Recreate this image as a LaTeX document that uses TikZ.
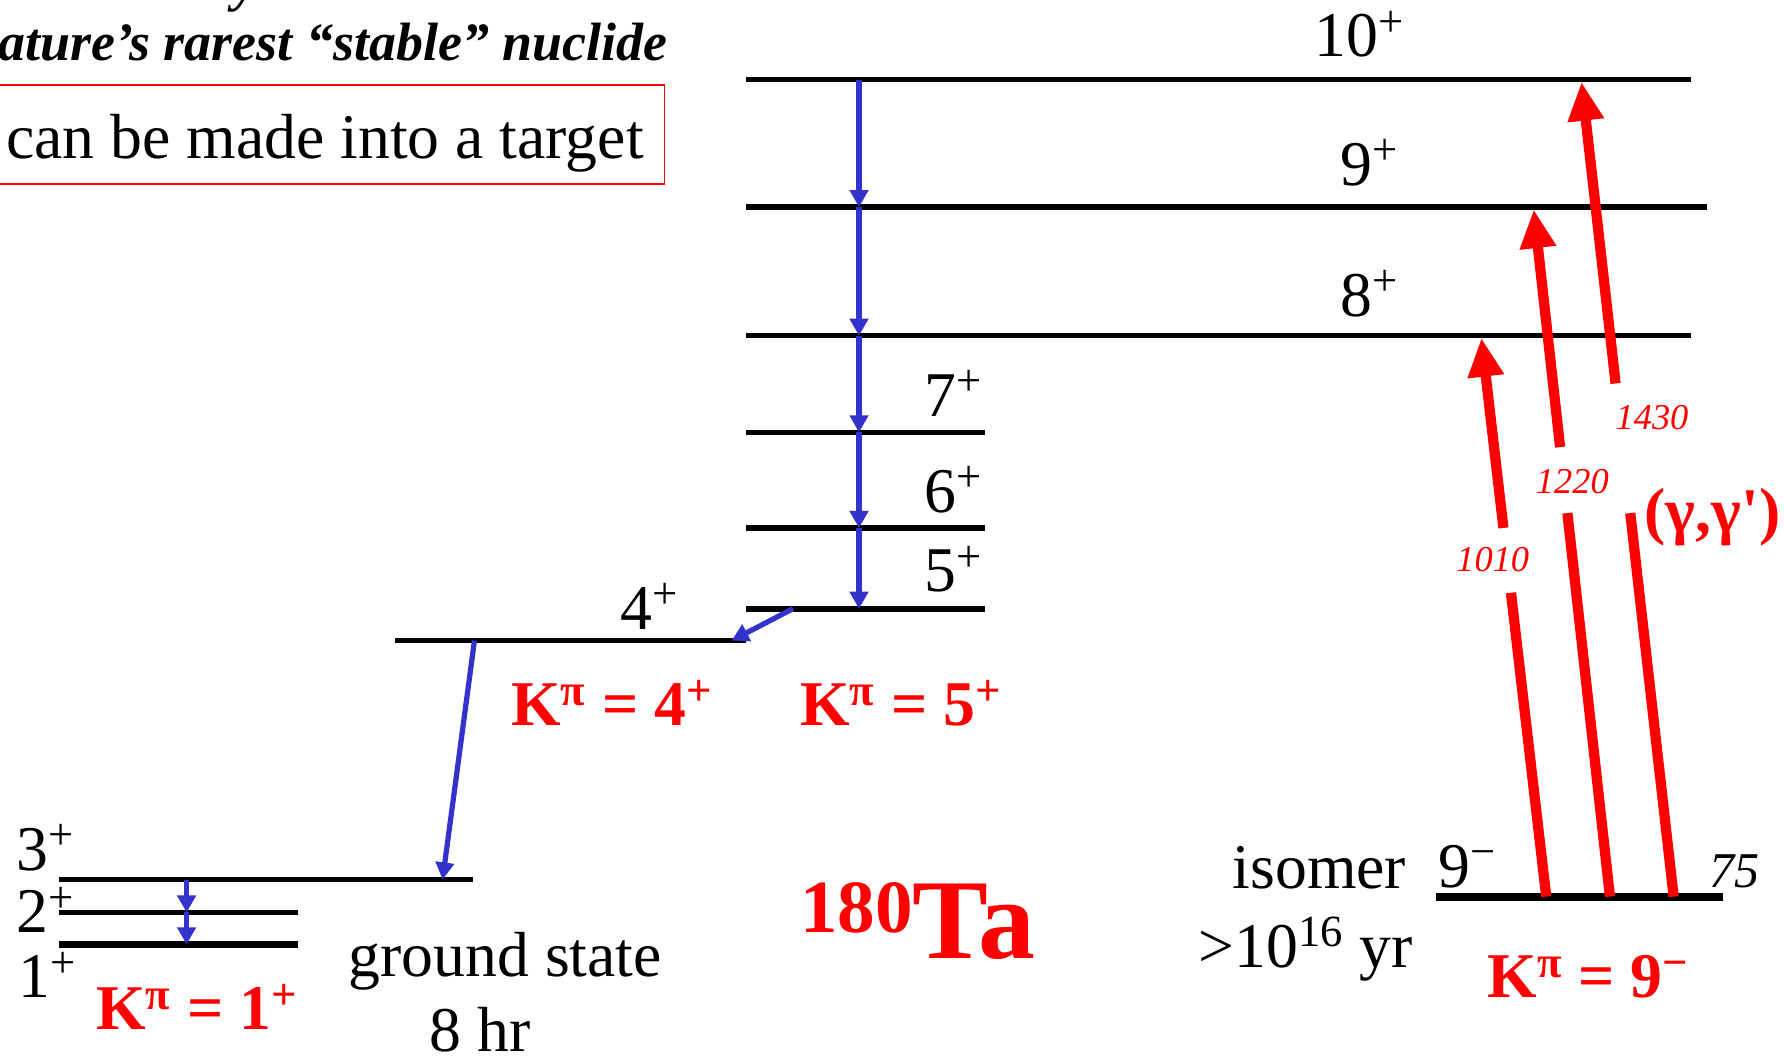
\documentclass[tikz,border=0pt]{standalone}
\usepackage{fontspec}
\setmainfont{Liberation Serif}
\usetikzlibrary{arrows.meta,calc}
\definecolor{dblue}{RGB}{51,51,204}
\begin{document}
\begin{tikzpicture}[x=0.5pt,y=-0.5pt,
  level/.style={line width=2.5pt, black},
  blue arrow/.style={dblue, line width=2.3pt, -{Triangle[length=7.5pt,width=8pt]}},
  red line/.style={red, line width=4.5pt},
  red arrow/.style={red, line width=4.5pt, -{Triangle[length=17pt,width=15pt]}},
  lbl/.style={font=\fontsize{28}{30}\selectfont, inner sep=0pt},
  klbl/.style={font=\fontsize{28}{30}\selectfont\bfseries, text=red, inner sep=0pt},
  elbl/.style={font=\fontsize{16}{18}\selectfont\itshape, text=red, inner sep=0pt},
]
\useasboundingbox (0,0) rectangle (1568,933);

% header texts
\node[anchor=base west, inner sep=0pt, font=\fontsize{24}{26}\selectfont\bfseries\itshape] (ytop) at (205,0) {y};
\node[anchor=base east, inner sep=0pt, font=\fontsize{23.7}{26}\selectfont\bfseries\itshape] (title) at (587,53) {Nature’s rarest “stable” nuclide};
\draw[red, line width=0.8pt] (-10,75) rectangle (584,162);
\node[lbl, anchor=base west] (target) at (5,139) {can be made into a target};

% levels
\coordinate (L10a) at (656,70);  \coordinate (L10b) at (1486,70);
\coordinate (L9a) at (656,182);  \coordinate (L9b) at (1500,182);
\coordinate (L8a) at (656,295);  \coordinate (L8b) at (1486,295);
\coordinate (L7a) at (656,380);  \coordinate (L7b) at (866,380);
\coordinate (L6a) at (656,464);  \coordinate (L6b) at (866,464);
\coordinate (L5a) at (656,535);  \coordinate (L5b) at (866,535);
\coordinate (L4a) at (347,563);  \coordinate (L4b) at (656,563);
\coordinate (L3a) at (52,773);   \coordinate (L3b) at (416,773);
\coordinate (L2a) at (52,802);   \coordinate (L2b) at (262,802);
\coordinate (L1a) at (52,830);   \coordinate (L1b) at (262,830);
\coordinate (Lia) at (1262,788); \coordinate (Lib) at (1514,788);
\foreach \l in {10,9,8,7,6,5,4,3,2} {\draw[level] (L\l a) -- (L\l b);}
\draw[level, line width=3.2pt] (L1a) -- (L1b);
\draw[level, line width=3.5pt] (Lia) -- (Lib);

% level labels
\node[lbl, anchor=base west] (s10) at (1155,50) {10\textsuperscript{+}};
\node[lbl, anchor=base west] (s9) at (1178,163) {9\textsuperscript{+}};
\node[lbl, anchor=base west] (s8) at (1178,278) {8\textsuperscript{+}};
\node[lbl, anchor=base west] (s7) at (812,366) {7\textsuperscript{+}};
\node[lbl, anchor=base west] (s6) at (812,450) {6\textsuperscript{+}};
\node[lbl, anchor=base west] (s5) at (812,520) {5\textsuperscript{+}};
\node[lbl, anchor=base west] (s4) at (545,553) {4\textsuperscript{+}};
\node[lbl, anchor=base west] (s3) at (14,765) {3\textsuperscript{+}};
\node[lbl, anchor=base west] (s2) at (14,820) {2\textsuperscript{+}};
\node[lbl, anchor=base west] (s1) at (16,877) {1\textsuperscript{+}};
\node[lbl, anchor=base west] (si) at (1264,780) {9\textsuperscript{−}};
\node[lbl, anchor=base west, font=\fontsize{22}{24}\selectfont\itshape] (e75) at (1502,780) {75};

% descriptions
\node[lbl, anchor=base west] (iso) at (1083,781) {isomer};
\node[lbl, anchor=base west] (isot) at (1053,850) {>10\textsuperscript{16} yr};
\node[lbl, anchor=base west] (gs) at (306,858) {ground state};
\node[lbl, anchor=base west] (gst) at (377,924) {8 hr};

% K labels
\node[klbl, anchor=base west] (k4) at (449,638) {K\textsuperscript{π} = 4\textsuperscript{+}};
\node[klbl, anchor=base west] (k5) at (703,638) {K\textsuperscript{π} = 5\textsuperscript{+}};
\node[klbl, anchor=base west] (k1) at (84,905) {K\textsuperscript{π} = 1\textsuperscript{+}};
\node[klbl, anchor=base west] (k9) at (1307,877) {K\textsuperscript{π} = 9\textsuperscript{−}};

% 180Ta
\node[anchor=base west, inner sep=0pt, text=red, font=\bfseries] (ta) at (703,842)
  {\fontsize{33}{33}\selectfont\raisebox{11pt}{180}\fontsize{50}{50}\selectfont Ta};

% blue cascade
\coordinate (b10) at (755,70);
\coordinate (b9) at (755,182);
\coordinate (b8) at (755,295);
\coordinate (b7) at (755,380);
\coordinate (b6) at (755,464);
\coordinate (b5) at (755,535);
\draw[blue arrow] (b10) -- (b9);
\draw[blue arrow] (b9) -- (b8);
\draw[blue arrow] (b8) -- (b7);
\draw[blue arrow] (b7) -- (b6);
\draw[blue arrow] (b6) -- (b5);
\coordinate (d5) at (697,535); \coordinate (d4) at (643,563);
\draw[blue arrow] (d5) -- (d4);
\coordinate (e4) at (417,563); \coordinate (e3) at (389,773);
\draw[blue arrow] (e4) -- (e3);
\coordinate (g3) at (164,773); \coordinate (g2) at (164,802); \coordinate (g1) at (164,830);
\draw[blue arrow, line width=2.5pt] (g3) -- (g2);
\draw[blue arrow, line width=2.5pt] (g2) -- (g1);

% red excitations
\coordinate (t1010) at (1359,788); \coordinate (h1010) at (1302,297);
\coordinate (t1220) at (1415,788); \coordinate (h1220) at (1348,184);
\coordinate (t1430) at (1471,788); \coordinate (h1430) at (1390,72);
\draw[red line] (t1010) -- ($(t1010)!0.5438!(h1010)$);
\draw[red arrow] ($(t1010)!0.6599!(h1010)$) -- (h1010);
\draw[red line] (t1220) -- ($(t1220)!0.558!(h1220)$);
\draw[red arrow] ($(t1220)!0.654!(h1220)$) -- (h1220);
\draw[red line] (t1430) -- ($(t1430)!0.4707!(h1430)$);
\draw[red arrow] ($(t1430)!0.6299!(h1430)$) -- (h1430);
\node[elbl] (n1010) at (1312,492) {1010};
\node[elbl] (n1220) at (1382,423) {1220};
\node[elbl] (n1430) at (1452,367) {1430};
\node[anchor=base west, inner sep=0pt, text=red, font=\fontsize{28}{30}\selectfont\bfseries] (gg) at (1445,468) {(γ,γ\textquotesingle)};
\end{tikzpicture}
\end{document}
